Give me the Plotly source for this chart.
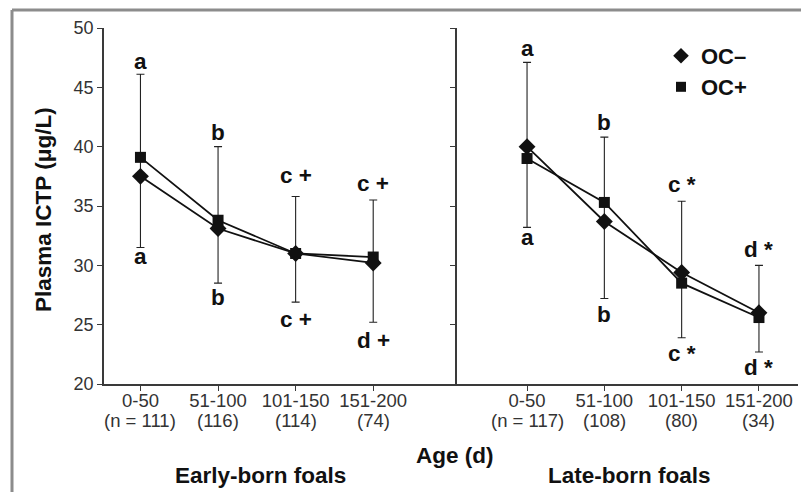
import plotly.graph_objects as go

# ---------------- data ----------------
age_groups = ["0-50", "51-100", "101-150", "151-200"]
early_n = ["(n = 111)", "(116)", "(114)", "(74)"]
late_n = ["(n = 117)", "(108)", "(80)", "(34)"]

early_oc_neg = [37.5, 33.1, 31.0, 30.2]
early_oc_pos = [39.1, 33.8, 31.0, 30.7]
early_upper = [46.1, 40.0, 35.8, 35.5]
early_lower = [31.5, 28.5, 26.9, 25.2]
early_labels_top = ["a", "b", "c +", "c +"]
early_labels_bottom = ["a", "b", "c +", "d +"]

late_oc_neg = [40.0, 33.7, 29.4, 26.0]
late_oc_pos = [39.0, 35.3, 28.5, 25.6]
late_upper = [47.1, 40.8, 35.4, 30.0]
late_lower = [33.2, 27.2, 23.9, 22.7]
late_labels_top = ["a", "b", "c *", "d *"]
late_labels_bottom = ["a", "b", "c *", "d *"]

y_ticks = [20, 25, 30, 35, 40, 45, 50]

# ---------------- style ----------------
FONT = "Liberation Sans, Arial, Helvetica, sans-serif"
INK = "#111111"
AXIS = "#3a3a3a"
TICKTXT = "#333333"
OFF = 8                      # page body margin
W, H = 809 - OFF, 492 - OFF
# plot area in page pixels: x 104..798, y 28..384
ML, MT = 104 - OFF, 28 - OFF
MR = W - (798 - OFF)
MB = H - (384 - OFF)
PW, PH = W - ML - MR, H - MT - MB
BOLD = 22.5


def px_x(px):
    """page x pixel -> paper x"""
    return (px - OFF - ML) / PW


def px_y(py):
    """page y pixel -> paper y"""
    return (MT + PH - (py - OFF)) / PH


split = px_x(457)

# label offsets (px) from whisker ends
early_top_shift = [13, 14, 21, 17]
early_bot_shift = [9, 14, 17, 18]
late_top_shift = [14, 15, 17, 16]
late_bot_shift = [10, 16, 16, 16]

fig = go.Figure()
xs = list(range(len(age_groups)))

panels = [
    ("x", "y", early_oc_neg, early_oc_pos, early_upper, early_lower,
     early_labels_top, early_labels_bottom, early_top_shift, early_bot_shift,
     early_n),
    ("x2", "y2", late_oc_neg, late_oc_pos, late_upper, late_lower,
     late_labels_top, late_labels_bottom, late_top_shift, late_bot_shift,
     late_n),
]

annotations = []
for (xa, ya, neg, pos, up, lo, ltop, lbot, tshift, bshift, ns) in panels:
    fig.add_trace(go.Scatter(
        x=xs, y=pos, xaxis=xa, yaxis=ya, mode="lines+markers",
        line=dict(color=INK, width=1.8),
        marker=dict(symbol="square", size=11, color=INK),
        error_y=dict(type="data", symmetric=False,
                     array=[u - p for u, p in zip(up, pos)],
                     arrayminus=[p - l for p, l in zip(pos, lo)],
                     color="#222222", thickness=1.1, width=4),
        showlegend=False, hoverinfo="skip"))
    fig.add_trace(go.Scatter(
        x=xs, y=neg, xaxis=xa, yaxis=ya, mode="lines+markers",
        line=dict(color=INK, width=1.8),
        marker=dict(symbol="diamond", size=13, color=INK),
        showlegend=False, hoverinfo="skip"))
    for i in xs:
        annotations.append(dict(
            x=i, y=up[i], xref=xa, yref=ya, text="<b>%s</b>" % ltop[i],
            showarrow=False, xanchor="center", yanchor="middle",
            yshift=tshift[i],
            font=dict(family=FONT, size=BOLD, color=INK)))
        annotations.append(dict(
            x=i, y=lo[i], xref=xa, yref=ya, text="<b>%s</b>" % lbot[i],
            showarrow=False, xanchor="center", yanchor="middle",
            yshift=-bshift[i],
            font=dict(family=FONT, size=BOLD, color=INK)))
        # sample-size line under the age-group tick label
        annotations.append(dict(
            x=i, y=px_y(420), xref=xa, yref="paper", text=ns[i],
            showarrow=False, xanchor="center", yanchor="middle",
            font=dict(family=FONT, size=18.5, color=TICKTXT)))

# legend-only traces (one legend each, so rows sit where the original has them)
fig.add_trace(go.Scatter(x=[None], y=[None], mode="markers", name="<b>OC–</b>",
                         marker=dict(symbol="diamond", size=12, color=INK),
                         legend="legend"))
fig.add_trace(go.Scatter(x=[None], y=[None], mode="markers", name="<b>OC+</b>",
                         marker=dict(symbol="square", size=10, color=INK),
                         legend="legend2"))

# titles
title_font = dict(family=FONT, size=BOLD, color=INK)
annotations += [
    dict(x=px_x(43), y=px_y(210), xref="paper", yref="paper",
         text="<b>Plasma ICTP (μg/L)</b>", textangle=-90, showarrow=False,
         xanchor="center", yanchor="middle", font=title_font),
    dict(x=px_x(455), y=px_y(455), xref="paper", yref="paper",
         text="<b>Age (d)</b>", showarrow=False,
         xanchor="center", yanchor="middle", font=title_font),
    dict(x=px_x(260), y=px_y(475), xref="paper", yref="paper",
         text="<b>Early-born foals</b>", showarrow=False,
         xanchor="center", yanchor="middle", font=title_font),
    dict(x=px_x(629), y=px_y(475), xref="paper", yref="paper",
         text="<b>Late-born foals</b>", showarrow=False,
         xanchor="center", yanchor="middle", font=title_font),
]

axis_common = dict(showline=True, linecolor=AXIS, linewidth=1.5,
                   ticks="outside", ticklen=5, tickwidth=1.2, tickcolor=AXIS,
                   showgrid=False, zeroline=False)
xfont = dict(family=FONT, size=18.5, color=TICKTXT)
yfont = dict(family=FONT, size=18, color=TICKTXT)

legend_common = dict(xanchor="left", yanchor="middle",
                     bgcolor="rgba(0,0,0,0)",
                     font=dict(family=FONT, size=22, color=INK))

fig.update_layout(
    width=W, height=H,
    margin=dict(l=ML, r=MR, t=MT, b=MB),
    paper_bgcolor="white", plot_bgcolor="white",
    xaxis=dict(domain=[0, split], range=[-0.47, 4.08], anchor="y",
               tickvals=xs, ticktext=age_groups, tickfont=xfont,
               ticklabelstandoff=-6, **axis_common),
    xaxis2=dict(domain=[split, 1], range=[-0.906, 3.505], anchor="y2",
                tickvals=xs, ticktext=age_groups, tickfont=xfont,
                ticklabelstandoff=-6, **axis_common),
    yaxis=dict(range=[20, 50], tickvals=y_ticks, anchor="x", tickfont=yfont,
               **axis_common),
    yaxis2=dict(range=[20, 50], tickvals=y_ticks, anchor="x2",
                showticklabels=False, **axis_common),
    showlegend=True,
    legend=dict(x=px_x(661), y=px_y(56), **legend_common),
    legend2=dict(x=px_x(661), y=px_y(87), **legend_common),
    annotations=annotations,
    shapes=[
        dict(type="line", xref="paper", yref="paper",
             x0=px_x(12), x1=px_x(812), y0=px_y(10), y1=px_y(10),
             line=dict(color="#8c8c8c", width=3)),
        dict(type="line", xref="paper", yref="paper",
             x0=px_x(12), x1=px_x(12), y0=px_y(10), y1=px_y(495),
             line=dict(color="#8c8c8c", width=3)),
    ],
)

fig.write_html("out.html")
